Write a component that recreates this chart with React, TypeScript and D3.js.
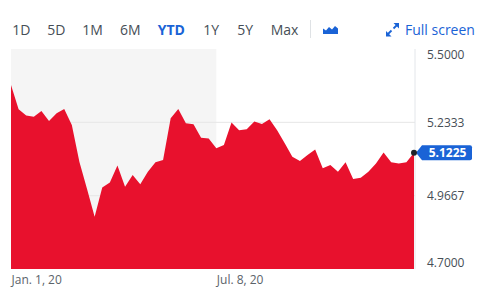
import React from "react";
import * as d3 from "d3";

const START_DATE = "2020-01-01";
// weekly closing values, Jan 1 2020 .. Jan 6 2021
const values: number[] = [
  5.369, 5.281, 5.258, 5.254, 5.275, 5.238, 5.266, 5.282, 5.224, 5.089,
  4.991, 4.890, 4.996, 5.015, 5.076, 4.999, 5.042, 5.008, 5.054, 5.088,
  5.096, 5.248, 5.282, 5.230, 5.226, 5.177, 5.175, 5.139, 5.151, 5.233,
  5.205, 5.208, 5.236, 5.227, 5.245, 5.205, 5.157, 5.108, 5.093, 5.115,
  5.135, 5.066, 5.078, 5.054, 5.088, 5.027, 5.032, 5.054, 5.084, 5.124,
  5.088, 5.084, 5.088, 5.1225,
];
const yTicks: number[] = [5.5, 5.2333, 4.9667, 4.7];
const xTickDates: string[] = ["2020-01-01", "2020-07-08"];
const xTickLabels: string[] = ["Jan. 1, 20", "Jul. 8, 20"];
const rangeLabels: string[] = ["1D", "5D", "1M", "6M", "YTD", "1Y", "5Y", "Max"];
const activeRange = "YTD";
const lastPrice = "5.1225";

// layout
const W = 497, H = 292;
const PL = 11, PR = 414, PT = 49, PB = 269;
const rangeX = [12.3, 47.3, 82.3, 120, 157.7, 203.3, 237.3, 270.7];

const parse = d3.utcParse("%Y-%m-%d");
const start = parse(START_DATE) as Date;
const dates = values.map((_, i) => d3.utcDay.offset(start, 7 * i));
const data = values.map((v, i) => ({ date: dates[i], value: v }));

const x = d3.scaleUtc().domain([dates[0], dates[dates.length - 1]]).range([PL, PR]);
const y = d3.scaleLinear().domain([4.7, 5.5]).range([PB, PT]);

const area = d3
  .area<{ date: Date; value: number }>()
  .x((d) => x(d.date))
  .y0(y(4.7))
  .y1((d) => y(d.value));

const TEXT = "#464e56";
const BLUE = "#1a63d6";
const RED = "#e8112d";
const FONT = "'Open Sans', sans-serif";

export default function App() {
  const grayEnd = x(parse(xTickDates[1]) as Date);
  const last = data[data.length - 1];
  const ly = y(last.value);
  const lx = x(last.date);
  return (
    <svg width={W} height={H} style={{ position: "absolute", left: 0, top: 0, background: "#fff" }} fontFamily={FONT}>
      {/* toolbar */}
      {rangeLabels.map((r, i) => (
        <text key={r} x={rangeX[i]} y={35} fontSize={14}
          fill={r === activeRange ? BLUE : TEXT} fontWeight={r === activeRange ? 700 : 400}>
          {r}
        </text>
      ))}
      <line x1={310.5} x2={310.5} y1={20} y2={38} stroke="#dfe2e5" />
      <path d="M323,34 L323,28.5 L326,30.5 L329,27 L332,29.5 L335,26 L338,28.5 L338,34 Z" fill={BLUE} />
      <g stroke={BLUE} strokeWidth={1.8} fill="none">
        <line x1={387.5} y1={34.5} x2={391.5} y2={30.5} />
        <line x1={393.5} y1={28.5} x2={397.5} y2={24.5} />
      </g>
      <path d="M386,36.5 L386,31 L391.5,36.5 Z" fill={BLUE} />
      <path d="M399,23 L393.5,23 L399,28.5 Z" fill={BLUE} />
      <text x={405} y={35} fontSize={14} fill={BLUE}>Full screen</text>

      {/* plot background */}
      <rect x={PL} y={PT} width={grayEnd - PL} height={PB - PT} fill="#f5f5f5" />
      {yTicks.slice(1, 3).map((t) => (
        <line key={t} x1={PL} x2={PR + 1} y1={y(t)} y2={y(t)} stroke="#e6e6e6" />
      ))}
      <line x1={PR + 1} x2={PR + 1} y1={PT} y2={PB} stroke="#e3e6ea" />

      <path d={area(data) || ""} fill={RED} />

      {/* y axis labels */}
      {yTicks.map((t) => {
        const cy = Math.max(55, Math.min(263, y(t)));
        return (
          <text key={t} x={427} y={cy} dy="0.36em" fontSize={12} fill={TEXT}>
            {t.toFixed(4)}
          </text>
        );
      })}

      {/* x axis labels */}
      {xTickDates.map((d, i) => (
        <text key={d} x={x(parse(d) as Date) + 0.5} y={284} fontSize={12} fill="#5b636a">
          {xTickLabels[i]}
        </text>
      ))}

      {/* last price tag */}
      <path
        d={`M${lx + 2},${ly} L${lx + 8},${ly - 7.5} H${lx + 56} Q${lx + 58},${ly - 7.5} ${lx + 58},${ly - 5.5} V${ly + 5.5} Q${lx + 58},${ly + 7.5} ${lx + 56},${ly + 7.5} H${lx + 8} Z`}
        fill={BLUE}
      />
      <text x={lx + 33.5} y={ly} dy="0.36em" textAnchor="middle" fontSize={12} fontWeight={700} fill="#fff">
        {lastPrice}
      </text>
      <circle cx={lx} cy={ly} r={3} fill="#1f2329" />
    </svg>
  );
}
